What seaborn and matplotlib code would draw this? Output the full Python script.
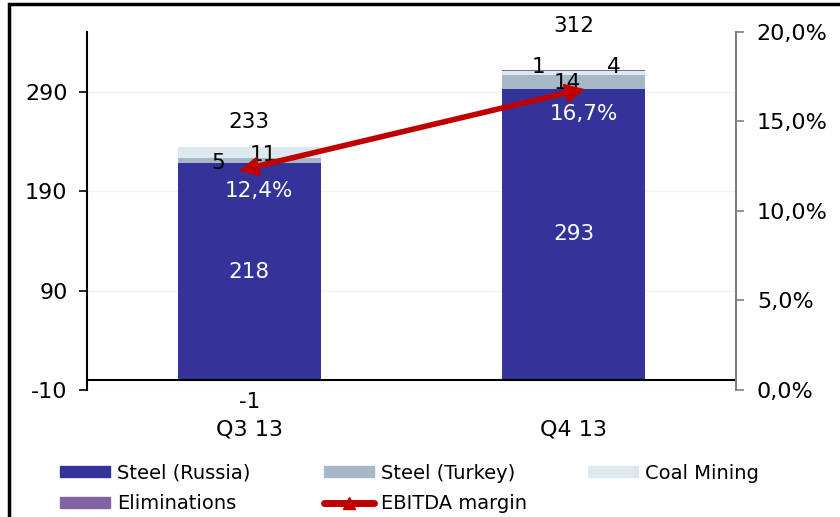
import numpy as np
import pandas as pd
import matplotlib
matplotlib.use("Agg")
import matplotlib.pyplot as plt
from matplotlib.markers import MarkerStyle
from matplotlib.transforms import Affine2D
from matplotlib.patches import Patch, Rectangle
from matplotlib.lines import Line2D
import seaborn as sns

quarters = ["Q3 13", "Q4 13"]
steel_russia = [218, 293]
steel_turkey = [5, 14]
coal_mining = [11, 4]
eliminations = [-1, 1]
totals = [233, 312]
ebitda_margin = [12.4, 16.7]

c_russia = "#333399"
c_turkey = "#A6B8C8"
c_coal = "#DDE8EF"
c_elim = "#8064A2"
c_line = "#C00000"

sns.set_style("white")
plt.rcParams["font.family"] = ["DejaVu Sans"]
plt.rcParams["text.color"] = "black"
plt.rcParams["xtick.color"] = "black"
plt.rcParams["ytick.color"] = "black"
plt.rcParams["axes.unicode_minus"] = False

# cumulative tops for overlapping bars (positive values stack upward)
r = np.array(steel_russia)
t = r + np.array(steel_turkey)
c = t + np.array(coal_mining)
e = np.where(np.array(eliminations) > 0, c + np.array(eliminations), np.array(eliminations))

df = pd.DataFrame({"q": quarters, "russia": r, "turkey": t, "coal": c, "elim": e})

fig = plt.figure(figsize=(8.4, 5.17), dpi=100)
fig.patches.append(Rectangle((9 / 840, -0.1), 1.2, 1.1 - 4 / 517, transform=fig.transFigure,
                             fill=False, edgecolor="black", linewidth=2.5))
ax = fig.add_axes([87 / 840, 1 - 390 / 517, (736 - 87) / 840, (390 - 32) / 517])

w = 0.44
for col, colr in [("elim", c_elim), ("coal", c_coal), ("turkey", c_turkey), ("russia", c_russia)]:
    sns.barplot(data=df, x="q", y=col, color=colr, width=w, saturation=1, ax=ax, linewidth=0)

ax.set_xlim(-0.5, 1.5)
ax.set_ylim(-10, 350)
ax.set_yticks([-10, 90, 190, 290])
ax.yaxis.grid(True, color="#EEF4F4", linewidth=1)
ax.set_axisbelow(True)
ax.axhline(0, color="black", linewidth=1.5)
ax.set_xlabel("")
ax.set_ylabel("")
for s in ["top", "right", "bottom"]:
    ax.spines[s].set_visible(False)
ax.spines["left"].set_color("black")
ax.spines["left"].set_linewidth(1.5)
ax.tick_params(axis="y", direction="out", length=6, width=1.2, color="black", labelsize=16, pad=8, left=True)
ax.tick_params(axis="x", length=0, labelsize=16, pad=21)

ax2 = ax.twinx()
ax2.set_ylim(0, 20)
ax2.set_yticks([0, 5, 10, 15, 20])
ax2.set_yticklabels([f"{v:.1f}%".replace(".", ",") for v in [0, 5, 10, 15, 20]])
for s in ["top", "left", "bottom"]:
    ax2.spines[s].set_visible(False)
ax2.spines["right"].set_color("#808080")
ax2.spines["right"].set_linewidth(1.5)
ax2.tick_params(axis="y", direction="out", length=6, width=1.2, color="#808080", labelcolor="black",
                labelsize=16, pad=9)

xpos = np.arange(len(quarters))
sns.lineplot(x=xpos, y=ebitda_margin, color=c_line, linewidth=4, ax=ax2, legend=False)
# arrow heads at both ends, oriented along the line
p0 = ax2.transData.transform((xpos[0], ebitda_margin[0]))
p1 = ax2.transData.transform((xpos[1], ebitda_margin[1]))
ang = np.degrees(np.arctan2(p1[1] - p0[1], p1[0] - p0[0]))
for i, a in [(0, ang + 180), (1, ang)]:
    m = MarkerStyle("^", transform=Affine2D().rotate_deg(a - 90))
    ax2.plot(xpos[i], ebitda_margin[i], marker=m, markersize=13, color=c_line, linestyle="none")

fs = 15.5
for i in range(len(quarters)):
    ax.text(i, steel_russia[i] / 2, f"{steel_russia[i]}", color="white", ha="center", va="center", fontsize=fs)
    ax2.text(i + 0.03, ebitda_margin[i] - 1.3, f"{ebitda_margin[i]:.1f}%".replace(".", ","),
             color="white", ha="center", va="center", fontsize=fs)

ax.text(0, totals[0] + 27, f"{totals[0]}", ha="center", va="center", fontsize=fs)
ax.text(1, totals[1] + 44, f"{totals[1]}", ha="center", va="center", fontsize=fs, clip_on=False)
ax.text(-0.095, 218.5, f"{steel_turkey[0]}", ha="center", va="center", fontsize=fs)
ax.text(0.043, 226.6, f"{coal_mining[0]}", ha="center", va="center", fontsize=fs)
ax.text(0, -22, f"{eliminations[0]}", ha="center", va="center", fontsize=fs, clip_on=False)
ax.text(1 - 0.11, 315, f"{eliminations[1]}", ha="center", va="center", fontsize=fs)
ax.text(1 + 0.123, 315, f"{coal_mining[1]}", ha="center", va="center", fontsize=fs)
ax.text(1 - 0.02, 299, f"{steel_turkey[1]}", ha="center", va="center", fontsize=fs)

# legend: three columns placed separately so they line up like the original
columns = [
    ([Patch(color=c_russia, label="Steel (Russia)"), Patch(color=c_elim, label="Eliminations")], 60),
    ([Patch(color=c_turkey, label="Steel (Turkey)"),
      Line2D([0], [0], color=c_line, linewidth=5, marker="^", markersize=9, label="EBITDA margin")], 324),
    ([Patch(color=c_coal, label="Coal Mining")], 588),
]
for hs, x0 in columns:
    leg = fig.legend(handles=hs, loc="upper left", bbox_to_anchor=((x0 - 8) / 840, 1 - 456 / 517),
                     frameon=False, fontsize=14, handlelength=2.6, handleheight=0.5,
                     handletextpad=0.35, labelspacing=0.6, borderaxespad=0, borderpad=0.4)

fig.savefig("out.png", dpi=100)
